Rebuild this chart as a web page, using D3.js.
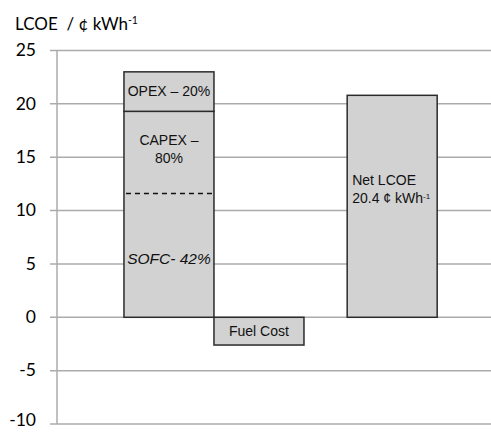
<!DOCTYPE html>
<html><head><meta charset="utf-8">
<script src="https://cdn.jsdelivr.net/npm/d3@7"></script>
<style>body{margin:0;background:#fff}svg{display:block}</style>
</head><body>
<svg id="c" width="491" height="432"></svg>
<script>
// ---- data ----
const yTicks = [25, 20, 15, 10, 5, 0, -5, -10];
const categories = ["Total", "Fuel Cost", "Net LCOE"];
const barSlot = [0, 1, 2.48];            // bar position, in bar widths
const segStart = [[0, 19.3], [0], [0]];  // stacked segments: start values
const segEnd = [[19.3, 23.0], [-2.6], [20.8]];
const sofcLevel = 11.6;                  // dashed SOFC share line in Total bar
const opexLabel = "OPEX \u2013 20%";
const capexLabel = ["CAPEX \u2013", "80%"];
const sofcLabel = "SOFC- 42%";
const fuelLabel = "Fuel Cost";
const netLabel = ["Net LCOE", "20.4 \u00a2 kWh"];

const svg = d3.select("#c");
const y = d3.scaleLinear().domain([-10, 25]).range([424, 50.5]);
const x = d3.scaleLinear().domain([-0.744, 4.078]).range([57, 491]);
const bw = x(1) - x(0);

// gridlines
svg.append("g").selectAll("line").data(yTicks).join("line")
  .attr("x1", 50).attr("x2", 491)
  .attr("y1", d => y(d)).attr("y2", d => y(d))
  .attr("stroke", "#ababab").attr("stroke-width", 1.5);
svg.append("line").attr("x1", x.range()[0]).attr("x2", x.range()[0])
  .attr("y1", y(25)).attr("y2", y(-10)).attr("stroke", "#ababab").attr("stroke-width", 1.5);

// tick labels
svg.append("g").selectAll("text").data(yTicks).join("text")
  .attr("x", 36).attr("y", d => Math.min(y(d), 420)).attr("dy", "0.33em")
  .attr("text-anchor", "end")
  .attr("font-family", "Lato, 'Open Sans', sans-serif").attr("font-size", 17.5)
  .attr("fill", "#000").text(d => d);

// title
const t = svg.append("text").attr("x", 15).attr("y", 30)
  .attr("font-family", "Lato, 'Open Sans', sans-serif").attr("font-size", 17).attr("fill", "#000");
t.append("tspan").text("LCOE\u00a0 / \u00a2 kWh");
t.append("tspan").attr("font-size", 10.5).attr("dy", -6).text("-1");

// bars
categories.forEach((c, i) => {
  segStart[i].forEach((s, j) => {
    const e = segEnd[i][j];
    svg.append("rect")
      .attr("x", x(barSlot[i])).attr("width", bw)
      .attr("y", y(Math.max(s, e))).attr("height", Math.abs(y(s) - y(e)))
      .attr("fill", "#d2d2d2").attr("stroke", "#2b2b2b").attr("stroke-width", 1.5);
  });
});
// dashed SOFC line
svg.append("line").attr("x1", x(barSlot[0]) + 2).attr("x2", x(barSlot[0] + 1) - 2)
  .attr("y1", y(sofcLevel)).attr("y2", y(sofcLevel))
  .attr("stroke", "#111").attr("stroke-width", 1.3).attr("stroke-dasharray", "5,4");

const lf = "'Liberation Sans', Arial, sans-serif";
function lbl(tx, xx, yy, opts = {}) {
  return svg.append("text").attr("x", xx).attr("y", yy).attr("dy", "0.35em")
    .attr("text-anchor", opts.anchor || "middle")
    .attr("font-family", lf).attr("font-size", opts.size || 14)
    .attr("font-style", opts.italic ? "italic" : null)
    .attr("fill", "#111").text(tx);
}
const c0 = x(barSlot[0] + 0.5);
lbl(opexLabel, c0, y((segEnd[0][0] + segEnd[0][1]) / 2));
lbl(capexLabel[0], c0, 140);
lbl(capexLabel[1], c0, 158);
lbl(sofcLabel, c0, y(5.5), {italic: true, size: 15.5});
lbl(fuelLabel, x(barSlot[1] + 0.5), y(segEnd[1][0] / 2));
lbl(netLabel[0], x(barSlot[2]) + 5, 180, {anchor: "start"});
const nl = lbl(netLabel[1], x(barSlot[2]) + 5, 198, {anchor: "start"});
nl.append("tspan").attr("font-size", 8).attr("dy", "-0.5em").text("-1");
</script>
</body></html>
